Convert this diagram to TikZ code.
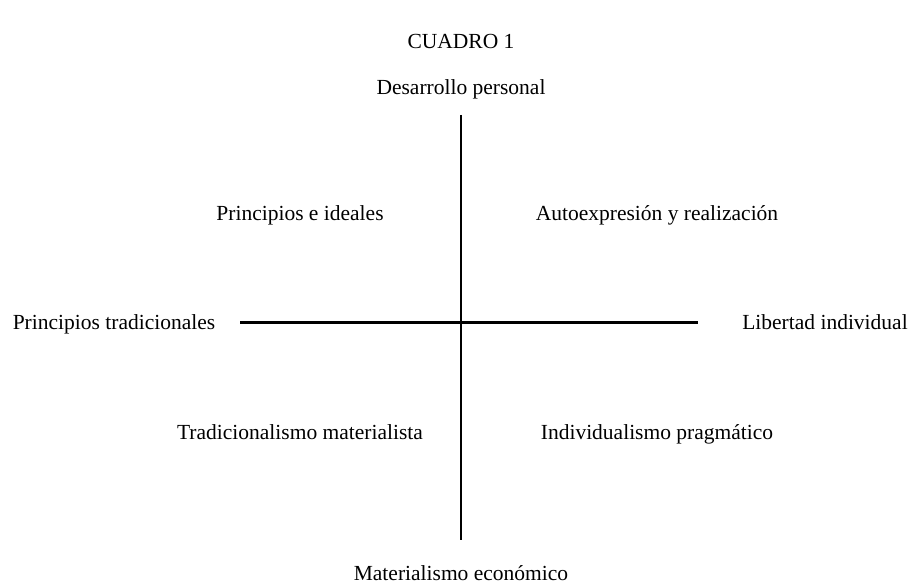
\documentclass[tikz,border=0pt]{standalone}
\usepackage{fontspec}
\setmainfont{Liberation Serif}
\begin{document}
\begin{tikzpicture}[x=1pt,y=-1pt,
  lbl/.style={font=\fontsize{21.5}{25}\selectfont, inner sep=0pt, anchor=center, text height=0.68em, text depth=0.22em},
  axis/.style={line width=2.6pt}]
\useasboundingbox (0,0) rectangle (908,588);
\node[lbl] (title) at (461,46) {CUADRO 1};
\node[lbl] (top) at (461,92) {Desarrollo personal};
\node[lbl] (bot) at (461,578) {Materialismo económico};
\node[lbl] (left) at (114,327) {Principios tradicionales};
\node[lbl] (right) at (825,327) {Libertad individual};
\node[lbl] (q1) at (300,218) {Principios e ideales};
\node[lbl] (q2) at (657,218) {Autoexpresión y realización};
\node[lbl] (q3) at (300,437) {Tradicionalismo materialista};
\node[lbl] (q4) at (657,437) {Individualismo pragmático};
\coordinate (vt) at (461,115);
\coordinate (vb) at (461,540);
\coordinate (hl) at (240,322.5);
\coordinate (hr) at (698,322.5);
\draw[axis] (vt) -- (vb);
\draw[axis] (hl) -- (hr);
\end{tikzpicture}
\end{document}
